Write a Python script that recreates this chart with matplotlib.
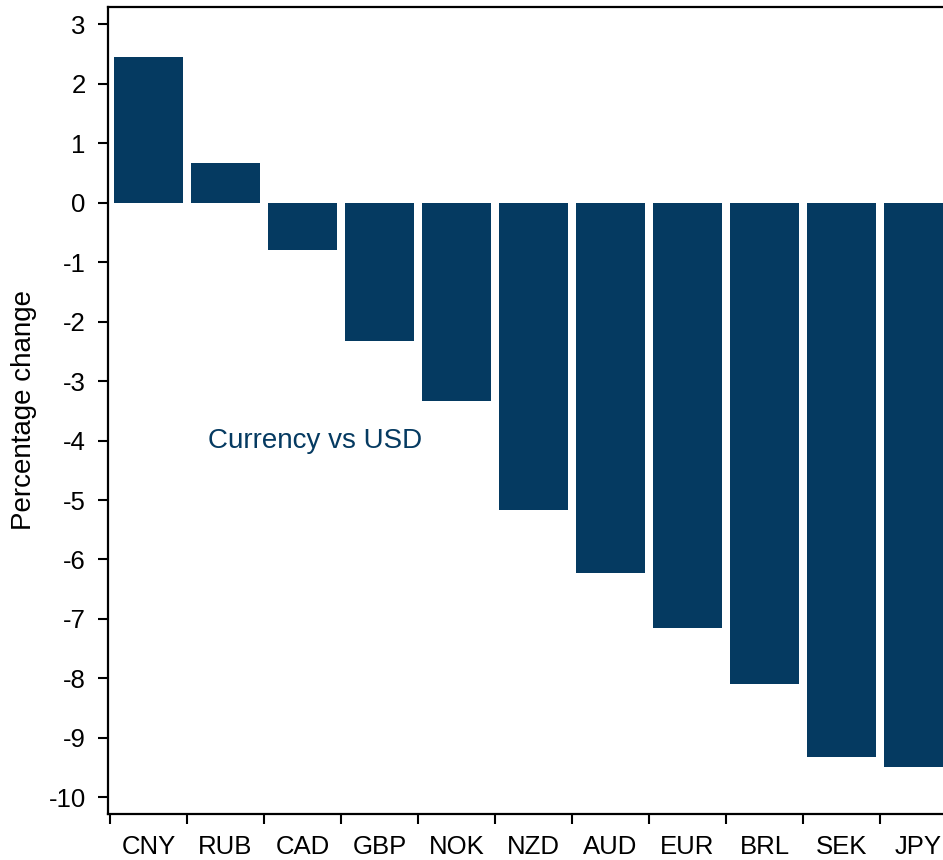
import numpy as np
import matplotlib
matplotlib.use("Agg")
import matplotlib.pyplot as plt

plt.rcParams['font.family'] = ['Liberation Sans', 'DejaVu Sans']

currencies = ["CNY", "RUB", "CAD", "GBP", "NOK", "NZD", "AUD", "EUR", "BRL", "SEK", "JPY"]
change = [2.45, 0.66, -0.80, -2.33, -3.34, -5.17, -6.23, -7.16, -8.10, -9.32, -9.49]
yticks = list(range(-10, 4))

BAR = "#053A61"

fig = plt.figure(figsize=(9.43, 8.6), dpi=100)
# axes run past the right edge of the figure (the reference is cropped there)
ax = fig.add_axes([108 / 943, 46 / 860, 849 / 943, 807 / 860])

x = np.arange(len(currencies))
ax.bar(x, change, width=0.9, color=BAR, zorder=2)

ax.set_xlim(-0.525, len(currencies) - 0.5)
ax.set_ylim(-10.28, 3.29)
ax.set_yticks(yticks)
ax.set_yticklabels([str(v) for v in yticks])

# labels at category centres, ticks at category boundaries
ax.set_xticks(x)
ax.set_xticklabels(currencies)
ax.set_xticks(np.arange(len(currencies)) - 0.5, minor=True)
ax.tick_params(axis="x", which="major", length=0, pad=15, labelsize=18.5)
ax.tick_params(axis="x", which="minor", length=7, width=1.5, direction="out")
ax.tick_params(axis="y", length=7, width=1.5, pad=9, labelsize=18.5)

for s in ax.spines.values():
    s.set_linewidth(1.6)

ax.set_ylabel("Percentage change", fontsize=20, labelpad=8)
ax.text(2.16, -4.0, "Currency vs USD", fontsize=20, color=BAR, ha="center", va="center")

fig.savefig("out.png", dpi=100)
